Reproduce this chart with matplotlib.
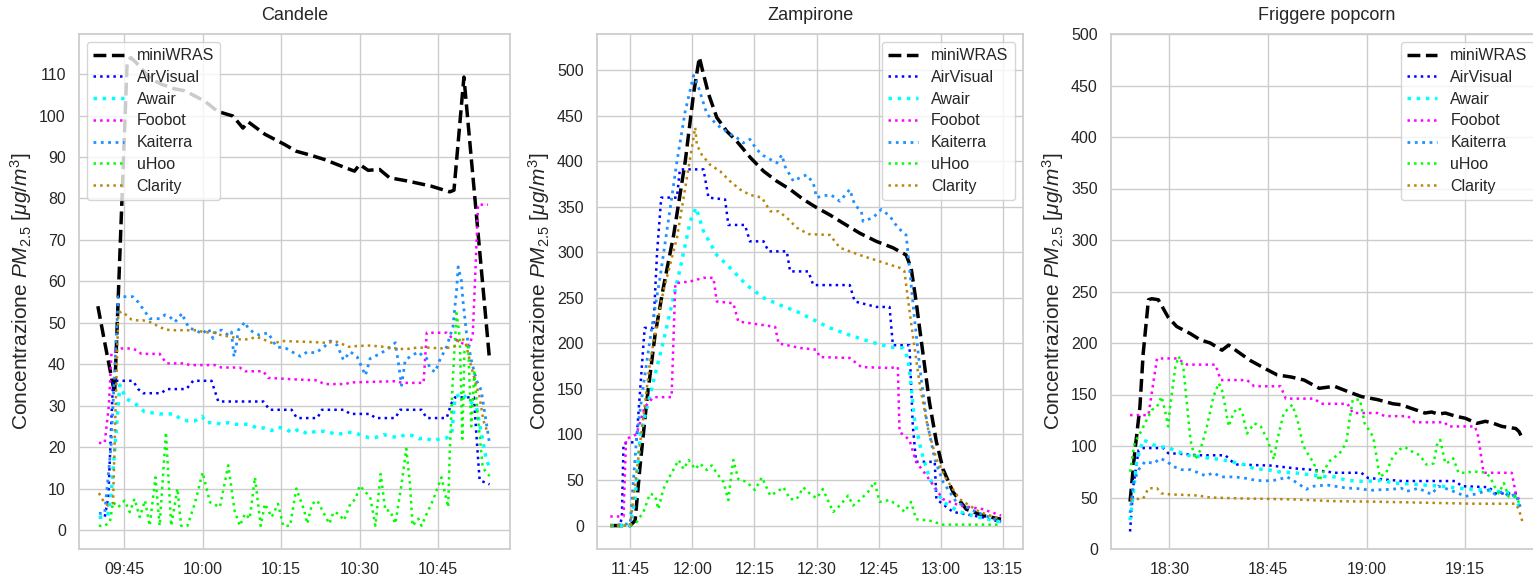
import matplotlib

matplotlib.use("Agg")
import matplotlib.dates as mdates
import matplotlib.pyplot as plt
import pandas as pd
import seaborn as sns
from matplotlib.ticker import MultipleLocator

sns.set_theme(style="whitegrid")
plt.rcParams["font.family"] = ["Liberation Sans", "DejaVu Sans"]
plt.rcParams["mathtext.fontset"] = "custom"
plt.rcParams["mathtext.rm"] = "Liberation Sans"
plt.rcParams["mathtext.it"] = "Liberation Sans:italic"

sensors = ["miniWRAS", "AirVisual", "Awair", "Foobot", "Kaiterra", "uHoo", "Clarity"]

# (minutes from panel reference time, PM2.5 value)
# --- Candele, reference 09:45 ---
candele_miniwras = [(-5, 54), (-3.5, 44), (-1.8, 33), (0.6, 113), (1.3, 114), (2.3, 112.8), (5, 109),
                    (7.1, 107.6), (9.5, 106.5), (11.6, 106), (15.4, 103.5), (17.9, 101), (20.8, 99.9),
                    (22.7, 97), (23.7, 98.5), (26.9, 95.5), (30.7, 93), (32.9, 91.4), (35.5, 90.5),
                    (38.3, 89.4), (41.5, 87.8), (44, 86.6), (45, 88.2), (46.6, 86.8), (48.8, 87),
                    (50.7, 85), (54.2, 84.2), (58.6, 83), (62.2, 81.6), (63, 82), (64.9, 109.3), (69.8, 41)]
candele_airvisual = [(-4.8, 3), (-3.7, 3), (-3.0, 8), (-2.1, 36), (1.7, 36), (2.7, 34), (3.6, 33), (7.1, 33),
                     (8.1, 34), (11.9, 34), (13.2, 36), (16.7, 36), (18, 31), (26.6, 31), (27.8, 29), (32, 29),
                     (33, 27), (36.9, 27), (37.8, 29), (42, 29), (43.2, 28), (47, 28), (48, 27), (51.8, 27),
                     (52.7, 29), (56.8, 29), (57.8, 27), (61.6, 27), (62.5, 30.5), (63.2, 32), (66.8, 32),
                     (67.5, 19), (67.9, 12), (69.8, 11)]
candele_awair = [(-4.8, 3), (-3.1, 3.5), (-2.5, 8), (-1.8, 19), (-0.8, 35), (0.4, 31.7), (1.4, 31), (2.7, 30),
                 (3.9, 28.5), (5.2, 28.3), (6.8, 28), (9.7, 28), (10.6, 26.9), (12.2, 26.3), (13.5, 26.3),
                 (14.9, 27.4), (15.7, 25.9), (17.3, 25.9), (18.6, 25.5), (19.9, 25.9), (21.1, 25.5), (24, 25.5),
                 (25.3, 24.6), (26.9, 24.6), (28.2, 24), (29.4, 24.8), (30.9, 24.4), (32, 23.5), (33.4, 24.3),
                 (35, 23.2), (36.6, 23.8), (38.2, 23.8), (39.4, 23.5), (40.7, 23), (42.6, 23.6), (44.2, 23.4),
                 (45.4, 22.8), (46.7, 22.3), (48, 22.3), (49.6, 23), (50.8, 22.6), (52.4, 22.3), (53.7, 23),
                 (55, 22.8), (56.3, 22), (57.5, 22.2), (59, 21.5), (60.3, 22), (61.6, 22.2), (62.6, 23.4),
                 (63.2, 32), (64.5, 33), (66, 31), (67.3, 29.7), (69.2, 16.8), (69.8, 15.2)]
candele_foobot = [(-4.8, 21), (-3.7, 21), (-2.9, 30), (-2.4, 42.6), (-0.5, 43.8), (1.4, 43.8), (2.4, 43.4),
                  (3.3, 42.5), (6.8, 42.5), (8.1, 40.2), (11.6, 40.2), (12.5, 39.8), (17.3, 39.8), (18.6, 39.2),
                  (22.1, 39.2), (23.1, 38.3), (26.6, 38.3), (27.5, 36.7), (33.2, 36.3), (36.9, 36.1),
                  (38.2, 35.2), (42.3, 35.2), (43.2, 35.6), (52.1, 35.9), (53, 35.5), (57.2, 35.5),
                  (57.8, 47.6), (61.6, 47.6), (62.5, 46.5), (64.7, 45), (66, 44.6), (66.6, 47.4), (67, 59.5),
                  (67.6, 78.5), (69.5, 78.5)]
candele_kaiterra = [(-4.8, 4), (-3.7, 4), (-2.5, 20), (-1.1, 56.3), (1.7, 56.3), (2.7, 55), (4, 52.7), (4.9, 51),
                    (6.8, 51), (7.8, 51.9), (8.7, 51.5), (9.7, 50.2), (10.3, 51), (11.1, 52.3), (11.6, 50.6),
                    (12.5, 48.6), (13.5, 48.4), (14.9, 47.3), (16.1, 48.6), (17, 46.2), (17.6, 48.2),
                    (18.7, 48.2), (19.9, 47), (20.5, 47.8), (21, 41.8), (21.5, 45), (21.8, 48.2), (23.1, 50.2),
                    (23.7, 48.6), (24.6, 47.8), (25.9, 47), (27.5, 47.6), (29.1, 44.2), (31, 43.8), (32.6, 42.6),
                    (33.7, 41.9), (35, 43), (36.6, 42.7), (38.2, 44.2), (39.4, 45.6), (40.7, 44.6), (41.9, 41),
                    (43.2, 43), (44.5, 41.8), (46.1, 37.3), (47, 41.4), (49, 42.6), (50.5, 43.8), (51.8, 45.2),
                    (52.4, 40.2), (53, 34.9), (53.7, 41), (54.6, 41.8), (56.2, 43), (57.2, 41.8), (57.8, 41.4),
                    (58.4, 39), (59.4, 38.1), (60.3, 41), (61.6, 44.2), (62.8, 49), (63.5, 57.9), (63.8, 63.5),
                    (64.4, 60.3), (64.7, 55.5), (65.4, 47.4), (66.3, 41), (67.3, 36.1), (68.2, 33.7),
                    (69.8, 20.8)]
candele_uhoo = [(-4.8, 1), (-3.7, 1), (-2.7, 1.9), (-2.1, 6.7), (-1.1, 5.5), (0.1, 7.1), (1.1, 4.3), (2, 7.5),
                (3, 3.1), (4, 7.1), (4.9, 1), (6, 12.7), (6.8, 1), (8, 23.6), (9, 1), (10.2, 10), (10.9, 1),
                (12.1, 1), (13.5, 6.3), (15, 13.9), (16.4, 6.7), (18.3, 5.5), (19.9, 15.6), (21.1, 4.7),
                (22.1, 1), (23.1, 3.9), (24, 2.7), (25, 12.7), (26.1, 1), (26.9, 6.3), (28.2, 3.1), (29.4, 6.3),
                (30.4, 1), (31.7, 1), (32.9, 10), (34.4, 4.7), (35, 1.5), (35.9, 6.3), (36.9, 7.1), (38.2, 3.9),
                (39.2, 1.5), (40, 4.3), (41, 3.9), (42, 2.3), (43.2, 6.3), (44.2, 7.5), (45, 10.7), (47, 7.9),
                (48, 1), (49, 13.5), (49.9, 4.7), (50.8, 4.7), (51.8, 1.5), (53, 11.1), (53.9, 19.6),
                (54.6, 11.1), (55.1, 1), (56.2, 2.7), (56.8, 1), (57.8, 3.9), (59.1, 7.5), (60.6, 12.7),
                (61.9, 5.5), (62.2, 19), (62.8, 37), (63.5, 52.3), (64.1, 46.6), (64.6, 22), (65, 43),
                (65.7, 45), (66.3, 25), (66.9, 38), (67.5, 28), (68.5, 15), (69.8, 13)]
candele_clarity = [(-4.8, 8.9), (-4, 7.1), (-3.1, 5.9), (-2.1, 6.5), (-1.6, 30), (-1.1, 52.3), (-0.5, 52.7),
                   (0.4, 51.9), (1.4, 50.8), (2.4, 50.6), (3.6, 50.6), (4.9, 50.2), (6.5, 49.2), (7.8, 48.4),
                   (9, 48.2), (14.1, 48.2), (15.4, 47.6), (16.7, 47.8), (18.6, 47), (20.5, 46.6), (22.1, 46),
                   (23.7, 46), (25.3, 46.6), (26.6, 46), (28.5, 45), (30.1, 45.6), (35, 45.4), (38.2, 45.2),
                   (40.7, 45.4), (42.9, 44.2), (44.5, 44.4), (47, 44.5), (49.6, 44.2), (52.1, 43.8),
                   (53.7, 43.6), (55.9, 44), (58.4, 44), (60.3, 43.8), (62.2, 44), (63.2, 44.3), (64.1, 46.2),
                   (65.1, 45.8), (66, 41), (67, 36.1), (67.9, 32.1), (68.6, 26.5), (69.5, 23.2)]

# --- Zampirone, reference 11:45 ---
zampirone_miniwras = [(-4.8, 0), (0, 0), (1.2, 5.5), (2.4, 66), (4, 136), (6, 209), (8, 261), (10.5, 319),
                      (13.3, 400), (15.3, 474), (16.7, 514), (17.5, 499), (18.9, 474), (20.9, 448), (23.3, 433),
                      (25.7, 422), (29, 404), (32.2, 389), (35.4, 378), (38.6, 369), (41.8, 358), (45, 349),
                      (48.2, 341), (51.4, 332), (55.4, 321), (59.4, 312), (63.4, 305), (66.6, 297), (67.8, 283),
                      (69, 246), (70.6, 191), (72.2, 136), (73.9, 92), (75.5, 62), (77.9, 37), (81.1, 18),
                      (85.1, 11), (89.5, 7)]
zampirone_airvisual = [(-4.8, 0), (-2.5, 0), (-2, 9), (-1.6, 90), (1.5, 92), (3.5, 217), (5.6, 217), (6.5, 300),
                       (7.5, 360), (11.3, 360), (12, 391), (17.7, 391), (18.9, 360), (22.9, 358), (23.7, 330),
                       (27.7, 330), (28.9, 312), (32.2, 312), (33.4, 301), (37.8, 301), (38.6, 279), (43, 279),
                       (44.2, 264), (53, 264), (54.2, 246), (59.4, 240), (62.6, 240), (63.4, 198), (67.4, 198),
                       (68.2, 110), (69, 70), (73.5, 70), (73.9, 29), (77.9, 15), (85.1, 9), (89.5, 4)]
zampirone_awair = [(-4.8, 0), (0, 0), (1.2, 30), (2.4, 99), (5.6, 158), (8, 202), (12.1, 283), (14.5, 334),
                   (15.9, 349), (17.7, 323), (20.9, 297), (24.1, 283), (28.1, 264), (32.2, 250), (36.2, 242),
                   (40.2, 235), (44.2, 226), (48.2, 217), (53, 209), (57.8, 202), (62.6, 196), (65.8, 195),
                   (67, 184), (67.8, 154), (68.6, 117), (70.3, 81), (72.3, 51), (75.5, 26), (79.5, 15),
                   (84.3, 9), (89.5, 4)]
zampirone_foobot = [(-4.8, 10), (-1.6, 10), (-1, 95), (1.5, 100), (3.5, 130), (5.6, 141), (10, 141), (10.9, 266),
                    (14.5, 268), (17.7, 272), (20.1, 272), (20.9, 246), (24.9, 244), (26.1, 224), (32.2, 220),
                    (35, 218), (35.8, 200), (41, 195), (45, 193), (45.7, 185), (53, 184), (55.8, 174),
                    (62.6, 173), (64.6, 174), (65, 103), (67.4, 94), (69, 70), (71.5, 55), (75.5, 29),
                    (79.5, 22), (85.1, 18), (89.5, 11)]
zampirone_kaiterra = [(-4.8, 0), (0, 2), (1.6, 99), (3.2, 154), (5.2, 217), (7.2, 272), (9.2, 334), (11.3, 400),
                      (13.3, 455), (15.3, 494), (16.5, 481), (18.5, 452), (20.9, 440), (24.1, 430), (25.7, 426),
                      (27.3, 420), (28.9, 424), (30.5, 413), (32.2, 406), (33.8, 402), (35.4, 398), (36.6, 407),
                      (37.4, 394), (39.4, 378), (41, 382), (42.6, 385), (44.2, 376), (45, 360), (46.5, 362),
                      (48.5, 363), (50.6, 356), (53, 369), (54.2, 352), (55.8, 345), (56.2, 334), (58.6, 338),
                      (60.6, 347), (62.6, 340), (64.6, 327), (66.6, 319), (67.4, 283), (68.6, 228), (69.9, 173),
                      (71.5, 117), (73.5, 73), (75.5, 48), (78.7, 26), (83.5, 15), (89.5, 4)]
zampirone_uhoo = [(-4.8, 0), (0, 0), (1.6, 4), (3.2, 15), (4.8, 35), (6, 33), (6.8, 18), (8, 40), (9.2, 51),
                  (11.7, 72), (12.9, 62), (14.1, 72), (15.7, 62), (16.9, 68), (18.5, 61), (19.7, 66), (21.3, 55),
                  (22.5, 48), (23.7, 28), (24.5, 59), (24.9, 72), (26.1, 51), (28.1, 48), (30.1, 39), (31.8, 53),
                  (33.8, 33), (35.4, 37), (37, 42), (38.6, 29), (40.2, 29), (41.8, 42), (43.4, 35), (45, 30),
                  (46.5, 40), (49, 15), (50.6, 22), (52.6, 33), (53.8, 22), (55.4, 28), (57.4, 37), (59, 48),
                  (60.2, 26), (62.6, 28), (64.6, 22), (66.2, 15), (67.8, 26), (69, 7), (72.2, 5.5), (75.5, 1),
                  (89.5, 1)]
zampirone_clarity = [(-4.8, 0), (0, 0), (1.6, 60), (4.8, 180), (8, 257), (11.3, 316), (13.7, 382), (15.7, 437),
                     (16.1, 418), (17.3, 407), (19.3, 396), (21.7, 389), (24.1, 378), (26.5, 369), (28.9, 363),
                     (31.8, 360), (33.8, 345), (35.8, 345), (37.8, 338), (40.2, 327), (43, 320), (48.2, 319),
                     (50.6, 305), (55.4, 297), (60.2, 290), (65, 283), (66.2, 279), (67, 250), (68.2, 209),
                     (69.9, 154), (71.9, 106), (73.9, 73), (76.3, 51), (79.5, 29), (84.3, 15), (89.5, 7)]

# --- Friggere popcorn, reference 18:30 ---
popcorn_miniwras = [(-6, 46), (-5.3, 93), (-4.5, 138), (-4, 190), (-3.2, 242), (-2.7, 243), (-1.7, 242),
                    (-0.2, 225), (1.1, 216), (3.2, 209), (4.7, 203), (6.2, 200), (8, 193), (9, 198),
                    (10.3, 192), (12.3, 183), (14.9, 174), (16.4, 169), (18.5, 167), (20.5, 164), (22.8, 156),
                    (25.1, 158), (27.1, 153), (29.2, 148), (31.7, 145), (34, 141), (35.3, 140), (36.6, 137),
                    (38.9, 132), (39.9, 133), (40.9, 131), (42, 132), (43.5, 129), (45, 127), (46.8, 122),
                    (48.1, 124), (49.3, 122), (50.6, 119), (52.7, 117), (53.2, 114), (53.7, 107.5)]
popcorn_airvisual = [(-6, 17), (-5.5, 61), (-4.7, 96), (-4, 98), (-0.9, 98), (-0.2, 93), (2.7, 92), (4.2, 91),
                     (8.5, 91), (9.5, 85), (10.3, 82), (15.4, 81), (19.5, 78), (21.5, 77), (24.1, 75), (25.1, 74),
                     (29.2, 74), (30.2, 69), (35.3, 66), (43.5, 66), (44.5, 61), (48.6, 60), (49.6, 54),
                     (53.2, 54)]
popcorn_awair = [(-6, 28), (-5.5, 54), (-5, 85), (-4, 106), (-2.4, 101), (-1.4, 99), (-0.4, 99), (1.1, 95),
                 (2.7, 91), (4.2, 90), (6.2, 88), (7.8, 87), (9.3, 85), (11.3, 82), (12.9, 78), (14.9, 77),
                 (16.4, 75), (19, 74), (21.5, 72), (24.1, 70), (25.1, 70), (27.1, 66.5), (29.7, 65.6),
                 (32.2, 66.5), (34.3, 64), (37.1, 63), (38.9, 62), (41.4, 61), (44, 59), (47, 57.5), (50, 56),
                 (52.3, 54), (53.5, 38)]
popcorn_foobot = [(-6, 130), (-3.2, 130), (-2.4, 164), (-1.9, 185), (1.1, 185), (1.9, 182), (2.7, 179), (7, 179),
                  (7.8, 164), (11.8, 164), (12.9, 158), (16.9, 158), (17.7, 146), (22, 146), (23.1, 141),
                  (27.1, 141), (27.9, 132), (31.7, 132), (32.8, 129), (36.3, 129), (37.3, 123), (41.9, 123),
                  (42.4, 119), (46.5, 119), (47, 109), (47.8, 74), (52.1, 74), (52.7, 54), (53.2, 48)]
popcorn_kaiterra = [(-6, 35), (-5.5, 64), (-4.7, 77), (-3.7, 85), (-2.4, 83), (-1.4, 88), (-0.4, 85), (0.6, 80),
                    (1.9, 77), (3.2, 77), (4.4, 74), (5.5, 71), (6.7, 74), (7.8, 70), (9.8, 70), (11.3, 69),
                    (12.9, 67), (14.4, 66), (16.4, 67), (17.9, 70), (19.5, 64), (20.8, 58), (22, 61),
                    (23.6, 62), (24.1, 62), (27.1, 59), (28.2, 59), (30.7, 57), (32, 57.5), (33.8, 58),
                    (35.3, 59), (36.1, 56), (37.9, 59), (39.9, 53), (40.9, 61), (42.4, 58), (44, 54), (45, 51),
                    (47, 54), (48.6, 57.5), (49.6, 53), (50.9, 56), (51.6, 51), (52.7, 53), (53.4, 41)]
popcorn_uhoo = [(-6, 75), (-5.3, 103), (-4.5, 112), (-3.5, 125), (-2.7, 135), (-1.9, 138), (-1.2, 148),
                (-0.7, 135), (-0.2, 119), (0.1, 138), (0.9, 177), (1.4, 187), (2.1, 177), (2.7, 138), (3.2, 106),
                (3.9, 87), (4.7, 96), (5.7, 119), (6.7, 148), (7.5, 161), (8, 154), (8.5, 138), (9, 119),
                (9.8, 133), (10.6, 137), (11.1, 132), (11.8, 112), (12.9, 122), (13.9, 119), (14.9, 106),
                (15.9, 87), (16.4, 106), (17.4, 132), (18.7, 140), (19.5, 125), (20.3, 101), (21, 93), (22, 83),
                (22.8, 66), (23.6, 77), (24.3, 85), (25.9, 93), (26.9, 103), (27.4, 125), (27.9, 145),
                (29, 145), (29.7, 122), (31, 109), (31.5, 90), (32, 70), (33, 74), (33.8, 87), (34.8, 96),
                (35.8, 99), (36.8, 95), (38.1, 91), (39.1, 82), (40.2, 83), (40.7, 101), (41.2, 106), (42, 83),
                (42.7, 85), (43.2, 88), (44, 74), (45, 74), (46, 75), (47.3, 75), (48.1, 74), (48.8, 70),
                (49.6, 59), (50.1, 54), (50.9, 64), (51.6, 51), (52.7, 51), (53.2, 45)]
popcorn_clarity = [(-6, 48), (-5, 48.5), (-4, 49), (-3.2, 59), (-1.9, 59), (-1.2, 54), (0.1, 53), (4.2, 52),
                   (6.2, 50), (11.3, 49), (16.4, 48.5), (19.5, 48), (24.6, 46.5), (30.7, 46), (38.4, 45),
                   (46, 44), (52.7, 44), (53.2, 38), (53.7, 27)]

styles = {
    "miniWRAS": dict(color="black", linestyle="--", linewidth=2.5),
    "AirVisual": dict(color="blue", linestyle=":", linewidth=1.8),
    "Awair": dict(color="cyan", linestyle=":", linewidth=2.5),
    "Foobot": dict(color="magenta", linestyle=":", linewidth=1.8),
    "Kaiterra": dict(color="dodgerblue", linestyle=":", linewidth=2.0),
    "uHoo": dict(color="lime", linestyle=":", linewidth=1.8),
    "Clarity": dict(color="darkgoldenrod", linestyle=":", linewidth=1.8),
}

panels = [
    dict(title="Candele", start="2021-01-01 09:45",
         data=[candele_miniwras, candele_airvisual, candele_awair, candele_foobot,
               candele_kaiterra, candele_uhoo, candele_clarity],
         xlim=(-8.6, 73.7), ylim=(-4.6, 119.7), ystep=10, loc="upper left",
         rect=[79, 431]),
    dict(title="Zampirone", start="2021-01-01 11:45",
         data=[zampirone_miniwras, zampirone_airvisual, zampirone_awair, zampirone_foobot,
               zampirone_kaiterra, zampirone_uhoo, zampirone_clarity],
         xlim=(-8.0, 94.8), ylim=(-25.7, 539.6), ystep=50, loc="upper right",
         rect=[597, 426]),
    dict(title="Friggere popcorn", start="2021-01-01 18:30",
         data=[popcorn_miniwras, popcorn_airvisual, popcorn_awair, popcorn_foobot,
               popcorn_kaiterra, popcorn_uhoo, popcorn_clarity],
         xlim=(-8.9, 56.7), ylim=(0, 500), ystep=50, loc="upper right",
         rect=[1111, 431]),
]

W, H = 1533, 575
fig = plt.figure(figsize=(W / 100, H / 100), dpi=100)
bottom, top = 549, 34

for panel in panels:
    left, width = panel["rect"]
    ax = fig.add_axes([left / W, (H - bottom) / H, width / W, (bottom - top) / H])
    base = pd.Timestamp(panel["start"])
    for name, pts in zip(sensors, panel["data"]):
        times = [base + pd.Timedelta(minutes=t) for t, _ in pts]
        values = [v for _, v in pts]
        ax.plot(times, values, label=name, **styles[name])
    ax.set_xlim(base + pd.Timedelta(minutes=panel["xlim"][0]),
                base + pd.Timedelta(minutes=panel["xlim"][1]))
    ax.set_ylim(*panel["ylim"])
    ax.yaxis.set_major_locator(MultipleLocator(panel["ystep"]))
    ax.xaxis.set_major_locator(mdates.MinuteLocator(byminute=[0, 15, 30, 45]))
    ax.xaxis.set_major_formatter(mdates.DateFormatter("%H:%M"))
    ax.tick_params(labelsize=11.5)
    ax.set_title(panel["title"], fontsize=13, pad=10)
    ax.set_ylabel(r"Concentrazione $PM_{2.5}$ [$\mu g/m^3$]", fontsize=15)
    ax.legend(loc=panel["loc"], fontsize=11.5, labelspacing=0.42, handlelength=1.9)

fig.savefig("out.png", dpi=100)
